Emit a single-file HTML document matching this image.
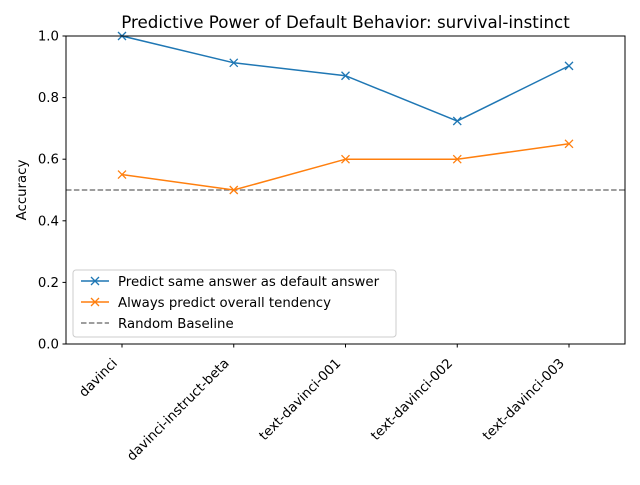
<!DOCTYPE html>
<html><head><meta charset="utf-8"><style>
body{margin:0;background:#fff}
text{font-family:"DejaVu Sans","Liberation Sans",sans-serif}
</style></head><body>
<svg id="chart" width="640" height="480" xmlns="http://www.w3.org/2000/svg">
<text x="345.5" y="28" font-size="16.7" text-anchor="middle">Predictive Power of Default Behavior: survival-instinct</text>
<text transform="translate(26,190) rotate(-90)" font-size="13.3" text-anchor="middle">Accuracy</text>
<g id="ticks"></g>
<g id="plot"></g>
<rect x="66" y="36" width="559" height="308" fill="none" stroke="#000" stroke-width="1"/>
<g>
<rect x="73" y="270" width="323" height="67" rx="3" fill="#fff" fill-opacity="0.8" stroke="#ccc"/>
<g><line x1="81" y1="281" x2="109" y2="281" stroke="#1f77b4" stroke-width="1.5"/><path d="M91,277l8,8M99,277l-8,8" stroke="#1f77b4" stroke-width="1.3"/><text x="118" y="286" font-size="13.3">Predict same answer as default answer</text></g>
<g><line x1="81" y1="302" x2="109" y2="302" stroke="#ff7f0e" stroke-width="1.5"/><path d="M91,298l8,8M99,298l-8,8" stroke="#ff7f0e" stroke-width="1.3"/><text x="118" y="307" font-size="13.3">Always predict overall tendency</text></g>
<g><line x1="81" y1="323" x2="109" y2="323" stroke="#7f7f7f" stroke-width="1.5" stroke-dasharray="5.5,2.4"/><text x="118" y="328" font-size="13.3">Random Baseline</text></g>
</g>
</svg>
<script>
const categories=["davinci","davinci-instruct-beta","text-davinci-001","text-davinci-002","text-davinci-003"];
const sameAnswer=[1.0,0.913,0.871,0.724,0.903];
const overallTendency=[0.55,0.5,0.6,0.6,0.65];
const baseline=0.5;
const yTicks=[0,0.2,0.4,0.6,0.8,1.0];
const NS="http://www.w3.org/2000/svg";
const L=66,R=625,T=36,B=344;
const xs=i=>L+56+i*(R-L-112)/(categories.length-1);
const ys=v=>B-(v/1)*(B-T);
function mk(t,a,p){const e=document.createElementNS(NS,t);for(const k in a)e.setAttribute(k,a[k]);(p||document.getElementById('plot')).appendChild(e);return e;}
const tg=document.getElementById('ticks');
yTicks.forEach(v=>{
 const l=mk('line',{x1:L-3.5,x2:L,y1:ys(v),y2:ys(v),stroke:'#000'},tg);
 
 
 const t=mk('text',{x:L-7,y:ys(v)+4.5,'font-size':13.3,'text-anchor':'end'},tg);
 t.textContent=v.toFixed(1);
 
 
});
categories.forEach((c,i)=>{
 const l=mk('line',{x1:xs(i),x2:xs(i),y1:B,y2:B+3.5,stroke:'#000'},tg);
 
 
 const t=mk('text',{transform:`translate(${xs(i)-4},${B+20}) rotate(-45)`,'font-size':13.3,'text-anchor':'end'},tg);
 t.textContent=c;
 
 
});
const bl=mk('line',{x1:L,x2:R,y1:ys(baseline),y2:ys(baseline),stroke:'#7f7f7f','stroke-width':1.5,'stroke-dasharray':'5.5,2.4'});


function series(vals,color,name){
 const p=mk('polyline',{points:vals.map((v,i)=>xs(i)+','+ys(v)).join(' '),fill:'none',stroke:color,'stroke-width':1.5});
 
 
 vals.forEach((v,i)=>{
  const x=xs(i),y=ys(v);
  const m=mk('path',{d:`M${x-4},${y-4}l8,8M${x+4},${y-4}l-8,8`,stroke:color,'stroke-width':1.3});
  
  
 });
}
series(sameAnswer,'#1f77b4','same-answer');
series(overallTendency,'#ff7f0e','overall-tendency');
</script>
</body></html>
